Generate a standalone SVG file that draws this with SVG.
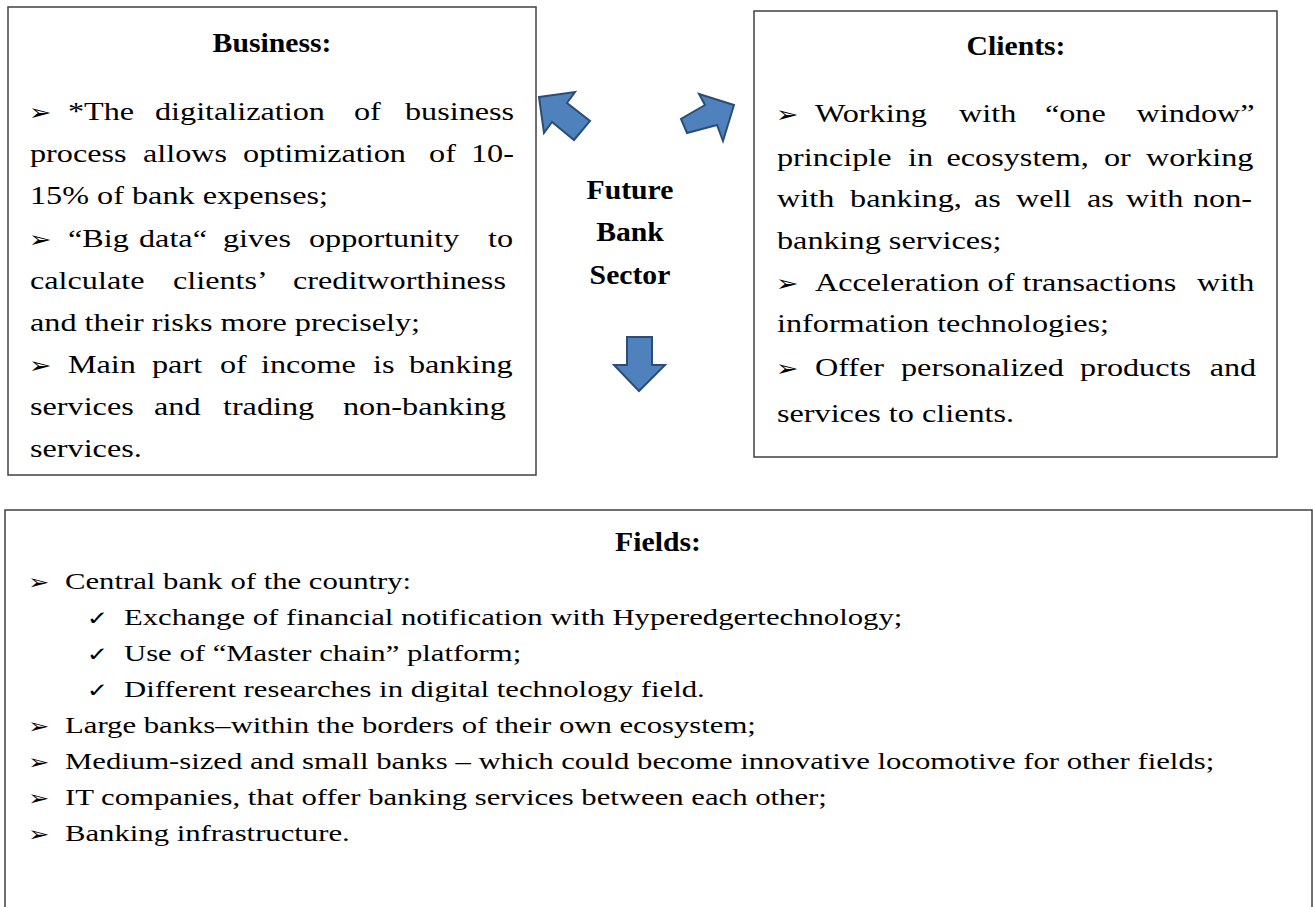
<svg xmlns="http://www.w3.org/2000/svg" width="1313" height="907" viewBox="0 0 1313 907">
<style>
.box{fill:#fff;stroke:#404040;stroke-width:1.5}
.t{font-family:"Liberation Serif","Times New Roman",serif;font-size:26px;fill:#000}
.f{font-family:"Liberation Serif","Times New Roman",serif;font-size:24px;fill:#000}
.h{font-family:"Liberation Serif","Times New Roman",serif;font-size:27px;font-weight:bold;fill:#000;text-anchor:middle}
.b{font-family:"DejaVu Sans","Noto Sans",sans-serif;font-size:22px;font-weight:bold;fill:#000}
.bf{font-family:"DejaVu Sans","Noto Sans",sans-serif;font-size:20px;font-weight:bold;fill:#000}
.c{font-family:"DejaVu Sans","Noto Sans",sans-serif;font-size:20px;fill:#000}
.arr{fill:#4f81bd;stroke:#2c4d75;stroke-width:2;stroke-linejoin:miter}
</style>
<rect width="1313" height="907" fill="#fff"/>

<g id="business">
<rect class="box" x="8" y="7" width="528" height="468"/>
<text class="h" transform="translate(272,52) scale(1.1,1)">Business:</text>
<g transform="translate(30,0) scale(1.24,1)">
<text class="t" y="120"><tspan class="b" x="-1">➢ </tspan><tspan x="30.6">*The </tspan><tspan x="100.8">digitalization </tspan><tspan x="261.3">of </tspan><tspan x="302.4">business</tspan></text>
<text class="t" y="162"><tspan x="0">process </tspan><tspan x="91.1">allows </tspan><tspan x="171.8">optimization </tspan><tspan x="321.8">of </tspan><tspan x="355.6">10-</tspan></text>
<text class="t" y="204" x="0">15% of bank expenses;</text>
<text class="t" y="247"><tspan class="b" x="-1">➢ </tspan><tspan x="30.6">“Big </tspan><tspan x="87.9">data“ </tspan><tspan x="155.6">gives </tspan><tspan x="225">opportunity </tspan><tspan x="369.4">to</tspan></text>
<text class="t" y="289"><tspan x="0">calculate </tspan><tspan x="115.3">clients’ </tspan><tspan x="212.1">creditworthiness</tspan></text>
<text class="t" y="331" x="0">and their risks more precisely;</text>
<text class="t" y="373"><tspan class="b" x="-1">➢ </tspan><tspan x="30.6">Main </tspan><tspan x="98.4">part </tspan><tspan x="153.2">of </tspan><tspan x="186.3">income </tspan><tspan x="276.6">is </tspan><tspan x="305.6">banking</tspan></text>
<text class="t" y="415"><tspan x="0">services </tspan><tspan x="100">and </tspan><tspan x="155.6">trading </tspan><tspan x="252.4">non-banking</tspan></text>
<text class="t" y="457" x="0">services.</text>
</g>
</g>

<g id="clients">
<rect class="box" x="754" y="11" width="523" height="446"/>
<text class="h" transform="translate(1016,55) scale(1.1,1)">Clients:</text>
<g transform="translate(777,0) scale(1.24,1)">
<text class="t" y="122"><tspan class="b" x="-1">➢ </tspan><tspan x="30.6">Working </tspan><tspan x="146.8">with </tspan><tspan x="216.1">“one </tspan><tspan x="289.9">window”</tspan></text>
<text class="t" y="166"><tspan x="0">principle </tspan><tspan x="105.6">in </tspan><tspan x="136.7">ecosystem, </tspan><tspan x="263.7">or </tspan><tspan x="297.6">working</tspan></text>
<text class="t" y="207"><tspan x="0">with </tspan><tspan x="58.9">banking, </tspan><tspan x="158.9">as </tspan><tspan x="192.7">well </tspan><tspan x="250">as </tspan><tspan x="281.5">with </tspan><tspan x="335.5">non-</tspan></text>
<text class="t" y="249" x="0">banking services;</text>
<text class="t" y="291"><tspan class="b" x="-1">➢ </tspan><tspan x="30.6">Acceleration of transactions </tspan><tspan x="338.7">with</tspan></text>
<text class="t" y="332" x="0">information technologies;</text>
<text class="t" y="376"><tspan class="b" x="-1">➢ </tspan><tspan x="30.6">Offer </tspan><tspan x="100">personalized </tspan><tspan x="244.4">products </tspan><tspan x="348.9">and</tspan></text>
<text class="t" y="422" x="0">services to clients.</text>
</g>
</g>

<g id="center">
<text class="h" transform="translate(630,199) scale(1.1,1)">Future</text>
<text class="h" transform="translate(630,241) scale(1.1,1)">Bank</text>
<text class="h" transform="translate(630,284) scale(1.1,1)">Sector</text>
</g>

<g id="connectors">
<polygon class="arr" points="539,97 575,92 567,103 590,121 574,140 552,122 544,133"/>
<polygon class="arr" points="734,105 699,94 705,105 681,119 687,133 717,125 723,141"/>
<polygon class="arr" points="627,337 652,337 652,365 665,365 639,391 614,365 627,365"/>
</g>

<g id="fields">
<rect class="box" x="5" y="510" width="1307" height="430"/>
<text class="h" transform="translate(658,551) scale(1.1,1)">Fields:</text>
<g transform="translate(65,0) scale(1.28,1)">
<text class="f" y="589"><tspan class="bf" x="-29">➢ </tspan><tspan x="0">Central bank of the country:</tspan></text>
<text class="f" y="625"><tspan class="c" x="17">✓ </tspan><tspan x="46.1">Exchange of financial notification with Hyperedgertechnology;</tspan></text>
<text class="f" y="661"><tspan class="c" x="17">✓ </tspan><tspan x="46.1">Use of “Master chain” platform;</tspan></text>
<text class="f" y="697"><tspan class="c" x="17">✓ </tspan><tspan x="46.1">Different researches in digital technology field.</tspan></text>
<text class="f" y="733"><tspan class="bf" x="-29">➢ </tspan><tspan x="0">Large banks–within the borders of their own ecosystem;</tspan></text>
<text class="f" y="769"><tspan class="bf" x="-29">➢ </tspan><tspan x="0">Medium-sized and small banks – which could become innovative locomotive for other fields;</tspan></text>
<text class="f" y="805"><tspan class="bf" x="-29">➢ </tspan><tspan x="0">IT companies, that offer banking services between each other;</tspan></text>
<text class="f" y="841"><tspan class="bf" x="-29">➢ </tspan><tspan x="0">Banking infrastructure.</tspan></text>
</g>
</g>
</svg>
